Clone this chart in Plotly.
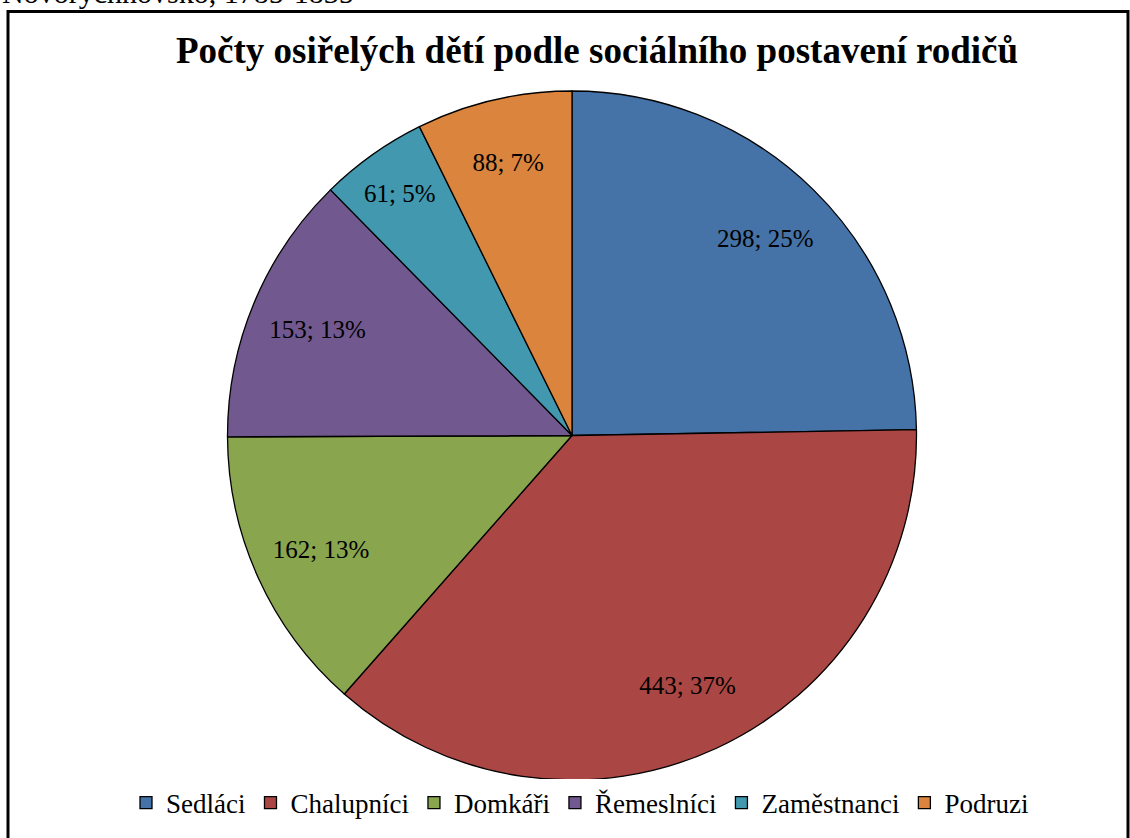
import plotly.graph_objects as go

# data
categories = ["Sedláci", "Chalupníci", "Domkáři", "Řemeslníci", "Zaměstnanci", "Podruzi"]
counts = [298, 443, 162, 153, 61, 88]
colors = ["#4572A7", "#AA4643", "#89A54E", "#71588F", "#4198AF", "#DB843D"]

W, H = 1130, 838
pie_domain = dict(x=[227 / W, 917 / W], y=[(H - 780) / H, (H - 91) / H])

# coloured slices, no text
pie = go.Pie(
    labels=categories,
    values=counts,
    sort=False,
    direction="clockwise",
    rotation=0,
    marker=dict(colors=colors, line=dict(color="black", width=1.3)),
    textinfo="none",
    domain=pie_domain,
    showlegend=True,
)

# transparent ring on top, only to push the labels further out (like Excel)
labels_ring = go.Pie(
    labels=categories,
    values=counts,
    sort=False,
    direction="clockwise",
    rotation=0,
    hole=0.6,
    marker=dict(colors=["rgba(0,0,0,0)"] * len(counts), line=dict(width=0)),
    texttemplate="%{value}; %{percent:.0%}",
    textposition="inside",
    insidetextorientation="horizontal",
    textfont=dict(family="Liberation Serif", size=25, color="black"),
    domain=pie_domain,
    showlegend=False,
    hoverinfo="skip",
)

layout = dict(
    width=W,
    height=H,
    margin=dict(l=0, r=0, t=0, b=0),
    paper_bgcolor="white",
    plot_bgcolor="white",
    font=dict(family="Liberation Serif", color="black"),
    title=dict(
        text="<b>Počty osiřelých dětí podle sociálního postavení rodičů</b>",
        font=dict(family="Liberation Serif", size=37, color="black"),
        x=597 / W,
        xanchor="center",
        y=(H - 50) / H,
        yanchor="middle",
    ),
    legend=dict(
        orientation="h",
        x=580 / W,
        xanchor="center",
        y=(H - 803) / H,
        yanchor="middle",
        font=dict(family="Liberation Serif", size=27, color="black"),
        itemwidth=30,
        traceorder="normal",
    ),
    shapes=[
        dict(
            type="rect", xref="paper", yref="paper",
            x0=8 / W, x1=1128 / W, y0=-0.05, y1=(H - 11.5) / H,
            line=dict(color="black", width=3),
        )
    ],
    annotations=[
        dict(
            text="Novorychnovsko, 1785-1835",
            xref="paper", yref="paper",
            x=0, xanchor="left",
            y=(H - 11) / H, yanchor="bottom",
            showarrow=False,
            font=dict(family="Liberation Serif", size=30, color="black"),
        )
    ],
)

fig = go.Figure(data=[pie, labels_ring], layout=layout)
fig.write_html(
    "out.html",
    config=dict(displayModeBar=False),
    post_script="document.body.style.margin='0px';",
)
